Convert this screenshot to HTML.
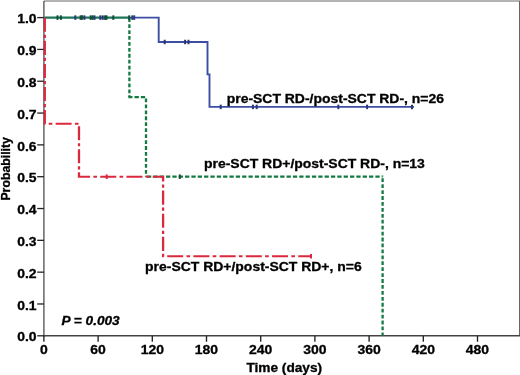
<!DOCTYPE html><html><head><meta charset="utf-8"><style>html,body{margin:0;padding:0;background:#fff;width:520px;height:375px;overflow:hidden}svg{display:block;filter:blur(0.3px)}text{font-family:"Liberation Sans",sans-serif;font-weight:bold}</style></head><body>
<svg width="520" height="375" viewBox="0 0 520 375">
<line x1="43.9" y1="1.0" x2="520" y2="1.0" stroke="#9a9a9a" stroke-width="1.3"/>
<line x1="519.7" y1="0.9" x2="519.7" y2="335.8" stroke="#666" stroke-width="1.4"/>
<line x1="43.9" y1="0.9" x2="43.9" y2="336.6" stroke="#5a5a5a" stroke-width="1.4"/>
<line x1="43.199999999999996" y1="335.8" x2="520" y2="335.8" stroke="#444" stroke-width="1.6"/>
<line x1="37.2" y1="335.80" x2="43.9" y2="335.80" stroke="#222" stroke-width="1.3"/>
<line x1="37.2" y1="303.98" x2="43.9" y2="303.98" stroke="#222" stroke-width="1.3"/>
<line x1="37.2" y1="272.16" x2="43.9" y2="272.16" stroke="#222" stroke-width="1.3"/>
<line x1="37.2" y1="240.34" x2="43.9" y2="240.34" stroke="#222" stroke-width="1.3"/>
<line x1="37.2" y1="208.52" x2="43.9" y2="208.52" stroke="#222" stroke-width="1.3"/>
<line x1="37.2" y1="176.70" x2="43.9" y2="176.70" stroke="#222" stroke-width="1.3"/>
<line x1="37.2" y1="144.88" x2="43.9" y2="144.88" stroke="#222" stroke-width="1.3"/>
<line x1="37.2" y1="113.06" x2="43.9" y2="113.06" stroke="#222" stroke-width="1.3"/>
<line x1="37.2" y1="81.24" x2="43.9" y2="81.24" stroke="#222" stroke-width="1.3"/>
<line x1="37.2" y1="49.42" x2="43.9" y2="49.42" stroke="#222" stroke-width="1.3"/>
<line x1="37.2" y1="17.60" x2="43.9" y2="17.60" stroke="#222" stroke-width="1.3"/>
<line x1="43.90" y1="335.8" x2="43.90" y2="341.8" stroke="#222" stroke-width="1.35"/>
<line x1="98.10" y1="335.8" x2="98.10" y2="341.8" stroke="#222" stroke-width="1.35"/>
<line x1="152.30" y1="335.8" x2="152.30" y2="341.8" stroke="#222" stroke-width="1.35"/>
<line x1="206.50" y1="335.8" x2="206.50" y2="341.8" stroke="#222" stroke-width="1.35"/>
<line x1="260.70" y1="335.8" x2="260.70" y2="341.8" stroke="#222" stroke-width="1.35"/>
<line x1="314.90" y1="335.8" x2="314.90" y2="341.8" stroke="#222" stroke-width="1.35"/>
<line x1="369.10" y1="335.8" x2="369.10" y2="341.8" stroke="#222" stroke-width="1.35"/>
<line x1="423.30" y1="335.8" x2="423.30" y2="341.8" stroke="#222" stroke-width="1.35"/>
<line x1="477.50" y1="335.8" x2="477.50" y2="341.8" stroke="#222" stroke-width="1.35"/>
<path d="M129.4,17.60 H158.7 V42.00 H207.5 V74.40 H209.5 V106.90 H414.0" fill="none" stroke="#3d4ea2" stroke-width="1.9"/>
<path d="M44.3,17.60 H129.4" fill="none" stroke="#1d7458" stroke-width="2.1"/>
<line x1="75.3" y1="15.35" x2="75.3" y2="19.85" stroke="#2b3878" stroke-width="2.0"/>
<line x1="84.4" y1="15.35" x2="84.4" y2="19.85" stroke="#2b3878" stroke-width="2.0"/>
<line x1="94.5" y1="15.35" x2="94.5" y2="19.85" stroke="#2b3878" stroke-width="2.0"/>
<line x1="100.3" y1="15.35" x2="100.3" y2="19.85" stroke="#2b3878" stroke-width="2.0"/>
<line x1="102.7" y1="15.35" x2="102.7" y2="19.85" stroke="#2b3878" stroke-width="2.0"/>
<line x1="132.3" y1="15.35" x2="132.3" y2="19.85" stroke="#2b3878" stroke-width="2.0"/>
<line x1="134.2" y1="15.35" x2="134.2" y2="19.85" stroke="#2b3878" stroke-width="2.0"/>
<line x1="164.7" y1="39.75" x2="164.7" y2="44.25" stroke="#2b3878" stroke-width="2.0"/>
<line x1="185.1" y1="39.75" x2="185.1" y2="44.25" stroke="#2b3878" stroke-width="2.0"/>
<line x1="188.5" y1="39.75" x2="188.5" y2="44.25" stroke="#2b3878" stroke-width="2.0"/>
<line x1="220.7" y1="104.65" x2="220.7" y2="109.15" stroke="#2b3878" stroke-width="2.0"/>
<line x1="252.9" y1="104.65" x2="252.9" y2="109.15" stroke="#2b3878" stroke-width="2.0"/>
<line x1="256.7" y1="104.65" x2="256.7" y2="109.15" stroke="#2b3878" stroke-width="2.0"/>
<line x1="338.3" y1="104.65" x2="338.3" y2="109.15" stroke="#2b3878" stroke-width="2.0"/>
<line x1="367.1" y1="104.65" x2="367.1" y2="109.15" stroke="#2b3878" stroke-width="2.0"/>
<line x1="412" y1="104.65" x2="412" y2="109.15" stroke="#2b3878" stroke-width="2.0"/>
<path d="M129.40,17.60 L129.40,97.15" fill="none" stroke="#147a42" stroke-width="2.3" stroke-dasharray="3.8 2.13" stroke-dashoffset="-0.67"/>
<path d="M128.40,97.15 L146.00,97.15" fill="none" stroke="#147a42" stroke-width="2.2" stroke-dasharray="4.3 2.04" stroke-dashoffset="-6.10"/>
<path d="M146.00,96.15 L146.00,176.70" fill="none" stroke="#147a42" stroke-width="2.3" stroke-dasharray="3.8 2.15" stroke-dashoffset="-2.35"/>
<path d="M145.00,176.70 L382.60,176.70" fill="none" stroke="#147a42" stroke-width="2.2" stroke-dasharray="4.3 2.044" stroke-dashoffset="-1.97"/>
<path d="M382.60,175.70 L382.60,335.80" fill="none" stroke="#147a42" stroke-width="2.3" stroke-dasharray="3.8 2.13" stroke-dashoffset="-2.60"/>
<line x1="57.5" y1="15.35" x2="57.5" y2="19.85" stroke="#0f4f38" stroke-width="2.0"/>
<line x1="60.9" y1="15.35" x2="60.9" y2="19.85" stroke="#0f4f38" stroke-width="2.0"/>
<line x1="80.6" y1="15.35" x2="80.6" y2="19.85" stroke="#0f4f38" stroke-width="2.0"/>
<line x1="82" y1="15.35" x2="82" y2="19.85" stroke="#0f4f38" stroke-width="2.0"/>
<line x1="90.7" y1="15.35" x2="90.7" y2="19.85" stroke="#0f4f38" stroke-width="2.0"/>
<line x1="92.6" y1="15.35" x2="92.6" y2="19.85" stroke="#0f4f38" stroke-width="2.0"/>
<line x1="105.1" y1="15.35" x2="105.1" y2="19.85" stroke="#0f4f38" stroke-width="2.0"/>
<line x1="106.5" y1="15.35" x2="106.5" y2="19.85" stroke="#0f4f38" stroke-width="2.0"/>
<line x1="113.3" y1="15.35" x2="113.3" y2="19.85" stroke="#0f4f38" stroke-width="2.0"/>
<line x1="129.2" y1="15.35" x2="129.2" y2="19.85" stroke="#0f4f38" stroke-width="2.0"/>
<line x1="179.8" y1="174.45" x2="179.8" y2="178.95" stroke="#0f4f38" stroke-width="2.0"/>
<g transform="scale(1.135,1)">
<path d="M39.47,17.60 V123.67 H69.60 V176.70 H143.70 V256.25 H274.89" fill="none" stroke="#da283e" stroke-width="2.0" stroke-dasharray="14.1 2.9 3.2 2.89" stroke-dashoffset="-0.15"/>
<text x="32.25" y="341.50" font-size="12.3" text-anchor="end" stroke="#000" stroke-width="0.3">0.0</text>
<text x="32.25" y="309.68" font-size="12.3" text-anchor="end" stroke="#000" stroke-width="0.3">0.1</text>
<text x="32.25" y="277.86" font-size="12.3" text-anchor="end" stroke="#000" stroke-width="0.3">0.2</text>
<text x="32.25" y="246.04" font-size="12.3" text-anchor="end" stroke="#000" stroke-width="0.3">0.3</text>
<text x="32.25" y="214.22" font-size="12.3" text-anchor="end" stroke="#000" stroke-width="0.3">0.4</text>
<text x="32.25" y="182.40" font-size="12.3" text-anchor="end" stroke="#000" stroke-width="0.3">0.5</text>
<text x="32.25" y="150.58" font-size="12.3" text-anchor="end" stroke="#000" stroke-width="0.3">0.6</text>
<text x="32.25" y="118.76" font-size="12.3" text-anchor="end" stroke="#000" stroke-width="0.3">0.7</text>
<text x="32.25" y="86.94" font-size="12.3" text-anchor="end" stroke="#000" stroke-width="0.3">0.8</text>
<text x="32.25" y="55.12" font-size="12.3" text-anchor="end" stroke="#000" stroke-width="0.3">0.9</text>
<text x="32.25" y="23.30" font-size="12.3" text-anchor="end" stroke="#000" stroke-width="0.3">1.0</text>
<text x="38.68" y="354.3" font-size="12.3" text-anchor="middle" stroke="#000" stroke-width="0.3">0</text>
<text x="86.43" y="354.3" font-size="12.3" text-anchor="middle" stroke="#000" stroke-width="0.3">60</text>
<text x="134.19" y="354.3" font-size="12.3" text-anchor="middle" stroke="#000" stroke-width="0.3">120</text>
<text x="181.94" y="354.3" font-size="12.3" text-anchor="middle" stroke="#000" stroke-width="0.3">180</text>
<text x="229.69" y="354.3" font-size="12.3" text-anchor="middle" stroke="#000" stroke-width="0.3">240</text>
<text x="277.44" y="354.3" font-size="12.3" text-anchor="middle" stroke="#000" stroke-width="0.3">300</text>
<text x="325.20" y="354.3" font-size="12.3" text-anchor="middle" stroke="#000" stroke-width="0.3">360</text>
<text x="372.95" y="354.3" font-size="12.3" text-anchor="middle" stroke="#000" stroke-width="0.3">420</text>
<text x="420.70" y="354.3" font-size="12.3" text-anchor="middle" stroke="#000" stroke-width="0.3">480</text>
<text x="217.09" y="371.6" font-size="12.05" stroke="#000" stroke-width="0.3">Time (days)</text>
<text x="54.19" y="324.8" font-size="12" font-style="italic" stroke="#000" stroke-width="0.3">P = 0.003</text>
<text x="199.74" y="103.0" font-size="12.3" stroke="#000" stroke-width="0.3">pre-SCT RD-/post-SCT RD-, n=26</text>
<text x="179.74" y="167.7" font-size="12.3" stroke="#000" stroke-width="0.3">pre-SCT RD+/post-SCT RD-, n=13</text>
<text x="127.84" y="271.0" font-size="12.3" stroke="#000" stroke-width="0.3">pre-SCT RD+/post-SCT RD+, n=6</text>
</g>
<text transform="translate(10.2,200.6) rotate(-90)" font-size="12.3" stroke="#000" stroke-width="0.3">Probability</text>
<line x1="106.7" y1="174.45" x2="106.7" y2="178.95" stroke="#da283e" stroke-width="2.0"/>
<line x1="311" y1="254.00" x2="311" y2="258.50" stroke="#da283e" stroke-width="2.0"/>
</svg></body></html>
